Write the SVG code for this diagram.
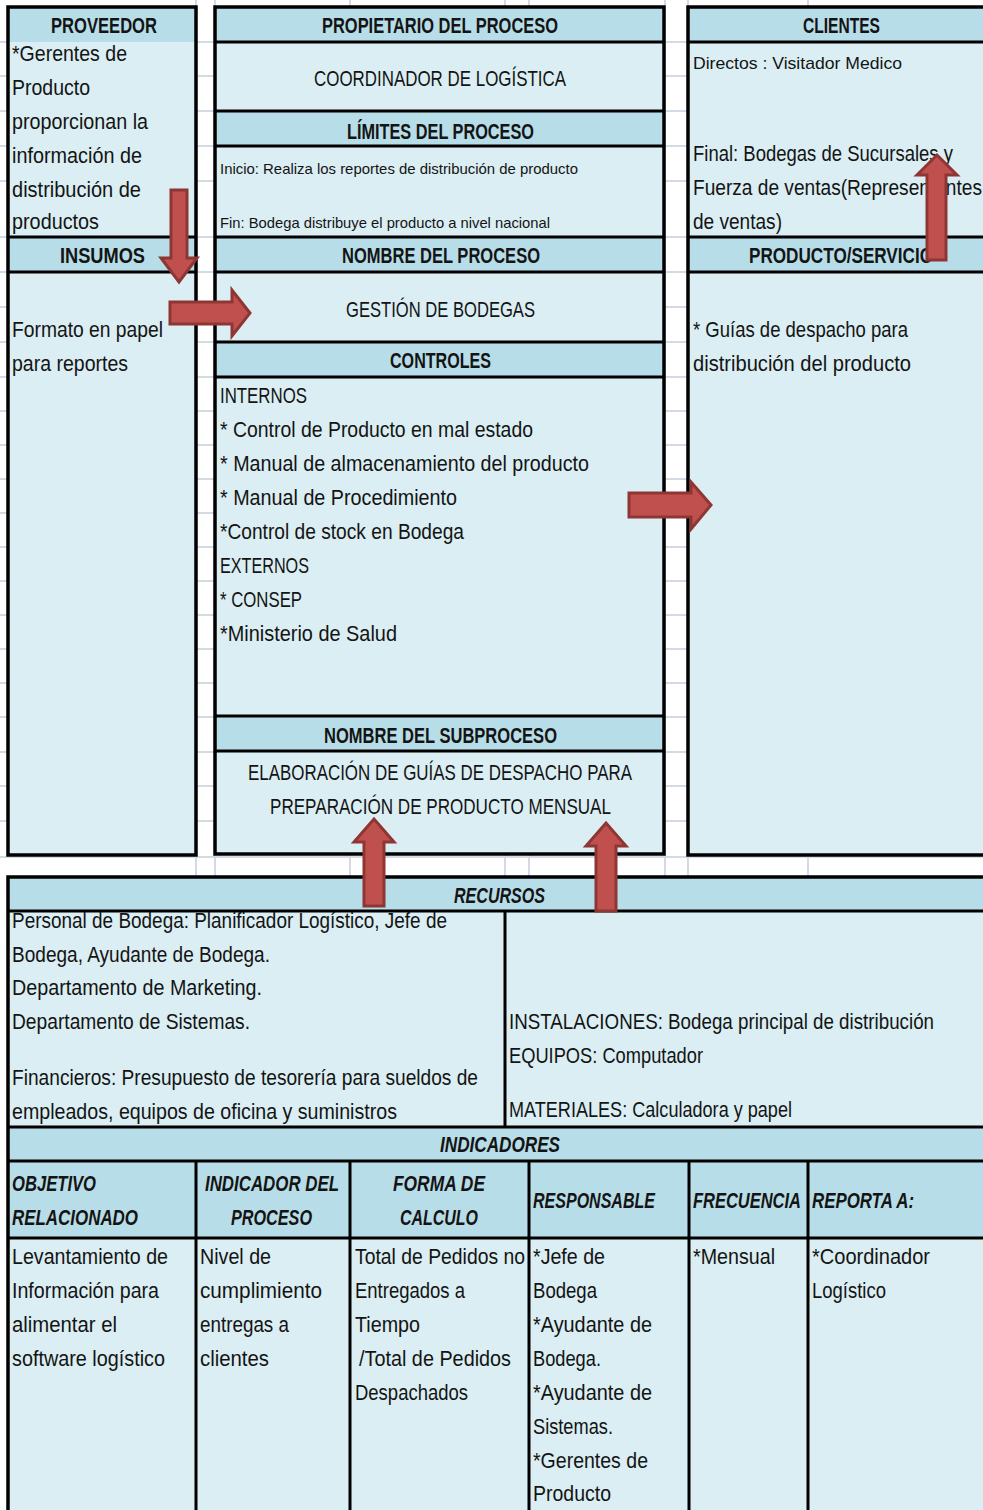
<svg xmlns="http://www.w3.org/2000/svg" width="983" height="1510" viewBox="0 0 983 1510">
  <style>
    .grid { stroke: #d3dae6; stroke-width: 2; }
    .hd { fill: #b7dde8; }
    .bd { fill: #daeef3; }
    .ln { stroke: #000; stroke-width: 3; fill: none; }
    .frame { stroke: #000; stroke-width: 3.5; fill: none; }
    text { font-family: "Liberation Sans Narrow", "Liberation Sans", Arial, sans-serif; font-size: 22px; fill: #141414; }
    .b { font-weight: bold; }
    .bi { font-weight: bold; font-style: italic; }
    .sm { font-size: 15px; }
    .md { font-size: 17px; }
    .arrow { fill: #c0504d; stroke: #8e3634; stroke-width: 3; stroke-linejoin: miter; }
  </style>

  <!-- sheet background and cell grid -->
  <rect x="0" y="0" width="983" height="1510" fill="#fff"/>
  <g id="sheet-grid" class="grid">
    <path d="M0,42H983M0,76H983M0,111H983M0,146H983M0,181H983M0,237H983M0,272H983M0,307H983M0,342H983M0,377H983M0,411H983M0,445H983M0,479H983M0,513H983M0,547H983M0,581H983M0,615H983M0,649H983M0,683H983M0,717H983M0,752H983M0,786H983M0,821H983M0,857H983"/>
    <path d="M196,0V877M215,0V877M350,0V877M505,0V877M529,0V877M665,0V877M688,0V877M808,0V877"/>
  </g>

  <!-- left column: supplier and inputs -->
  <g id="proveedor">
    <rect class="bd" x="8" y="7" width="188" height="230"/>
    <rect class="hd" x="8" y="7" width="188" height="35"/>
    <text class="b" x="51" y="33" textLength="106" lengthAdjust="spacingAndGlyphs">PROVEEDOR</text>
    <text x="12" y="61" textLength="115" lengthAdjust="spacingAndGlyphs">*Gerentes de</text>
    <text x="12" y="95" textLength="78" lengthAdjust="spacingAndGlyphs">Producto</text>
    <text x="12" y="129" textLength="136" lengthAdjust="spacingAndGlyphs">proporcionan la</text>
    <text x="12" y="163" textLength="130" lengthAdjust="spacingAndGlyphs">información de</text>
    <text x="12" y="197" textLength="129" lengthAdjust="spacingAndGlyphs">distribución de</text>
    <text x="12" y="229" textLength="87" lengthAdjust="spacingAndGlyphs">productos</text>
  </g>
  <g id="insumos">
    <rect class="bd" x="8" y="237" width="188" height="618"/>
    <rect class="hd" x="8" y="237" width="188" height="35"/>
    <path class="ln" d="M8,237H196M8,272H196"/>
    <text class="b" x="60" y="263" textLength="85" lengthAdjust="spacingAndGlyphs">INSUMOS</text>
    <text x="12" y="337" textLength="151" lengthAdjust="spacingAndGlyphs">Formato en papel</text>
    <text x="12" y="371" textLength="116" lengthAdjust="spacingAndGlyphs">para reportes</text>
  </g>
  <rect class="frame" x="8" y="7" width="188" height="848"/>

  <!-- middle column: process description -->
  <g id="propietario">
    <rect class="bd" x="215" y="7" width="449" height="104"/>
    <rect class="hd" x="215" y="7" width="449" height="35"/>
    <path class="ln" d="M215,42H664"/>
    <text class="b" x="322" y="33" textLength="236" lengthAdjust="spacingAndGlyphs">PROPIETARIO DEL PROCESO</text>
    <text x="314" y="86" textLength="252" lengthAdjust="spacingAndGlyphs">COORDINADOR DE LOGÍSTICA</text>
  </g>
  <g id="limites">
    <rect class="bd" x="215" y="111" width="449" height="126"/>
    <rect class="hd" x="215" y="111" width="449" height="35"/>
    <path class="ln" d="M215,111H664M215,146H664"/>
    <text class="b" x="347" y="139" textLength="187" lengthAdjust="spacingAndGlyphs">LÍMITES DEL PROCESO</text>
    <text class="sm" x="220" y="174" textLength="358" lengthAdjust="spacingAndGlyphs">Inicio: Realiza los reportes de distribución de producto</text>
    <text class="sm" x="220" y="228" textLength="330" lengthAdjust="spacingAndGlyphs">Fin: Bodega distribuye el producto a nivel nacional</text>
  </g>
  <g id="nombre-proceso">
    <rect class="bd" x="215" y="237" width="449" height="105"/>
    <rect class="hd" x="215" y="237" width="449" height="35"/>
    <path class="ln" d="M215,237H664M215,272H664"/>
    <text class="b" x="342" y="263" textLength="198" lengthAdjust="spacingAndGlyphs">NOMBRE DEL PROCESO</text>
    <text x="346" y="317" textLength="189" lengthAdjust="spacingAndGlyphs">GESTIÓN DE BODEGAS</text>
  </g>
  <g id="controles">
    <rect class="bd" x="215" y="342" width="449" height="374"/>
    <rect class="hd" x="215" y="342" width="449" height="35"/>
    <path class="ln" d="M215,342H664M215,377H664"/>
    <text class="b" x="390" y="368" textLength="101" lengthAdjust="spacingAndGlyphs">CONTROLES</text>
    <text x="220" y="403" textLength="87" lengthAdjust="spacingAndGlyphs">INTERNOS</text>
    <text x="220" y="437" textLength="313" lengthAdjust="spacingAndGlyphs">* Control de Producto en mal estado</text>
    <text x="220" y="471" textLength="369" lengthAdjust="spacingAndGlyphs">* Manual de almacenamiento del producto</text>
    <text x="220" y="505" textLength="237" lengthAdjust="spacingAndGlyphs">* Manual de Procedimiento</text>
    <text x="220" y="539" textLength="244" lengthAdjust="spacingAndGlyphs">*Control de stock en Bodega</text>
    <text x="220" y="573" textLength="89" lengthAdjust="spacingAndGlyphs">EXTERNOS</text>
    <text x="220" y="607" textLength="82" lengthAdjust="spacingAndGlyphs">* CONSEP</text>
    <text x="220" y="641" textLength="177" lengthAdjust="spacingAndGlyphs">*Ministerio de Salud</text>
  </g>
  <g id="subproceso">
    <rect class="bd" x="215" y="716" width="449" height="138"/>
    <rect class="hd" x="215" y="716" width="449" height="35"/>
    <path class="ln" d="M215,716H664M215,751H664"/>
    <text class="b" x="324" y="743" textLength="233" lengthAdjust="spacingAndGlyphs">NOMBRE DEL SUBPROCESO</text>
    <text x="248" y="780" textLength="384" lengthAdjust="spacingAndGlyphs">ELABORACIÓN DE GUÍAS DE DESPACHO PARA</text>
    <text x="270" y="814" textLength="341" lengthAdjust="spacingAndGlyphs">PREPARACIÓN DE PRODUCTO MENSUAL</text>
  </g>
  <rect class="frame" x="215" y="7" width="449" height="847"/>

  <!-- right column: customers and output -->
  <g id="clientes">
    <rect class="bd" x="688" y="7" width="310" height="230"/>
    <rect class="hd" x="688" y="7" width="310" height="35"/>
    <path class="ln" d="M688,42H998"/>
    <text class="b" x="803" y="33" textLength="77" lengthAdjust="spacingAndGlyphs">CLIENTES</text>
    <text class="md" x="693" y="69" textLength="209" lengthAdjust="spacingAndGlyphs">Directos : Visitador Medico</text>
    <text x="693" y="161" textLength="260" lengthAdjust="spacingAndGlyphs">Final: Bodegas de Sucursales y</text>
    <text x="693" y="195" textLength="289" lengthAdjust="spacingAndGlyphs">Fuerza de ventas(Representantes</text>
    <text x="693" y="229" textLength="89" lengthAdjust="spacingAndGlyphs">de ventas)</text>
  </g>
  <g id="producto-servicio">
    <rect class="bd" x="688" y="237" width="310" height="618"/>
    <rect class="hd" x="688" y="237" width="310" height="35"/>
    <path class="ln" d="M688,237H998M688,272H998"/>
    <text class="b" x="749" y="263" textLength="184" lengthAdjust="spacingAndGlyphs">PRODUCTO/SERVICIO</text>
    <text x="693" y="337" textLength="215" lengthAdjust="spacingAndGlyphs">* Guías de despacho para</text>
    <text x="693" y="371" textLength="218" lengthAdjust="spacingAndGlyphs">distribución del producto</text>
  </g>
  <rect class="frame" x="688" y="7" width="320" height="848"/>

  <!-- resources -->
  <g id="recursos">
    <rect class="bd" x="8" y="877" width="990" height="250"/>
    <rect class="hd" x="8" y="877" width="990" height="34"/>
    <path class="ln" d="M8,911H998M505,911V1127"/>
    <text class="bi" x="454" y="903" textLength="91" lengthAdjust="spacingAndGlyphs">RECURSOS</text>
    <text x="12" y="928" textLength="435" lengthAdjust="spacingAndGlyphs">Personal de Bodega: Planificador Logístico, Jefe de</text>
    <text x="12" y="962" textLength="258" lengthAdjust="spacingAndGlyphs">Bodega, Ayudante de Bodega.</text>
    <text x="12" y="995" textLength="250" lengthAdjust="spacingAndGlyphs">Departamento de Marketing.</text>
    <text x="12" y="1029" textLength="238" lengthAdjust="spacingAndGlyphs">Departamento de Sistemas.</text>
    <text x="12" y="1085" textLength="466" lengthAdjust="spacingAndGlyphs">Financieros: Presupuesto de tesorería para sueldos de</text>
    <text x="12" y="1119" textLength="385" lengthAdjust="spacingAndGlyphs">empleados, equipos de oficina y suministros</text>
    <text x="509" y="1029" textLength="425" lengthAdjust="spacingAndGlyphs">INSTALACIONES: Bodega principal de distribución</text>
    <text x="509" y="1063" textLength="194" lengthAdjust="spacingAndGlyphs">EQUIPOS: Computador</text>
    <text x="509" y="1117" textLength="283" lengthAdjust="spacingAndGlyphs">MATERIALES: Calculadora y papel</text>
  </g>

  <!-- indicators table -->
  <g id="indicadores">
    <rect class="bd" x="8" y="1127" width="990" height="390"/>
    <rect class="hd" x="8" y="1127" width="990" height="111"/>
    <path class="ln" d="M8,1127H998M8,1161H998M8,1238H998M196,1161V1515M350,1161V1515M529,1161V1515M689,1161V1515M808,1161V1515"/>
    <text class="bi" x="440" y="1152" textLength="120" lengthAdjust="spacingAndGlyphs">INDICADORES</text>
    <text class="bi" x="12" y="1191" textLength="84" lengthAdjust="spacingAndGlyphs">OBJETIVO</text>
    <text class="bi" x="12" y="1225" textLength="126" lengthAdjust="spacingAndGlyphs">RELACIONADO</text>
    <text class="bi" x="205" y="1191" textLength="134" lengthAdjust="spacingAndGlyphs">INDICADOR DEL</text>
    <text class="bi" x="231" y="1225" textLength="81" lengthAdjust="spacingAndGlyphs">PROCESO</text>
    <text class="bi" x="393" y="1191" textLength="92" lengthAdjust="spacingAndGlyphs">FORMA DE</text>
    <text class="bi" x="400" y="1225" textLength="78" lengthAdjust="spacingAndGlyphs">CALCULO</text>
    <text class="bi" x="533" y="1208" textLength="122" lengthAdjust="spacingAndGlyphs">RESPONSABLE</text>
    <text class="bi" x="693" y="1208" textLength="108" lengthAdjust="spacingAndGlyphs">FRECUENCIA</text>
    <text class="bi" x="812" y="1208" textLength="102" lengthAdjust="spacingAndGlyphs">REPORTA A:</text>

    <text x="12" y="1264" textLength="156" lengthAdjust="spacingAndGlyphs">Levantamiento de</text>
    <text x="12" y="1298" textLength="147" lengthAdjust="spacingAndGlyphs">Información para</text>
    <text x="12" y="1332" textLength="105" lengthAdjust="spacingAndGlyphs">alimentar el</text>
    <text x="12" y="1366" textLength="153" lengthAdjust="spacingAndGlyphs">software logístico</text>

    <text x="200" y="1264" textLength="71" lengthAdjust="spacingAndGlyphs">Nivel de</text>
    <text x="200" y="1298" textLength="122" lengthAdjust="spacingAndGlyphs">cumplimiento</text>
    <text x="200" y="1332" textLength="89" lengthAdjust="spacingAndGlyphs">entregas a</text>
    <text x="200" y="1366" textLength="69" lengthAdjust="spacingAndGlyphs">clientes</text>

    <text x="355" y="1264" textLength="170" lengthAdjust="spacingAndGlyphs">Total de Pedidos no</text>
    <text x="355" y="1298" textLength="110" lengthAdjust="spacingAndGlyphs">Entregados a</text>
    <text x="355" y="1332" textLength="65" lengthAdjust="spacingAndGlyphs">Tiempo</text>
    <text x="359" y="1366" textLength="152" lengthAdjust="spacingAndGlyphs">/Total de Pedidos</text>
    <text x="355" y="1400" textLength="113" lengthAdjust="spacingAndGlyphs">Despachados</text>

    <text x="533" y="1264" textLength="72" lengthAdjust="spacingAndGlyphs">*Jefe de</text>
    <text x="533" y="1298" textLength="64" lengthAdjust="spacingAndGlyphs">Bodega</text>
    <text x="533" y="1332" textLength="119" lengthAdjust="spacingAndGlyphs">*Ayudante de</text>
    <text x="533" y="1366" textLength="68" lengthAdjust="spacingAndGlyphs">Bodega.</text>
    <text x="533" y="1400" textLength="119" lengthAdjust="spacingAndGlyphs">*Ayudante de</text>
    <text x="533" y="1434" textLength="80" lengthAdjust="spacingAndGlyphs">Sistemas.</text>
    <text x="533" y="1468" textLength="115" lengthAdjust="spacingAndGlyphs">*Gerentes de</text>
    <text x="533" y="1501" textLength="78" lengthAdjust="spacingAndGlyphs">Producto</text>

    <text x="693" y="1264" textLength="82" lengthAdjust="spacingAndGlyphs">*Mensual</text>

    <text x="812" y="1264" textLength="118" lengthAdjust="spacingAndGlyphs">*Coordinador</text>
    <text x="812" y="1298" textLength="74" lengthAdjust="spacingAndGlyphs">Logístico</text>
  </g>
  <rect class="frame" x="8" y="877" width="1000" height="640"/>

  <!-- block arrows -->
  <g id="connectors">
    <path class="arrow" d="M171,190H187V258H197L179,282L161,258H171Z"/>
    <path class="arrow" d="M170,302H232V290L250,313L232,336V324H170Z"/>
    <path class="arrow" d="M629,493H691V482L711,505L691,529V517H629Z"/>
    <path class="arrow" d="M927,260V175H917L937,155L957,175H946V260Z"/>
    <path class="arrow" d="M364,906V842H354L374,819L394,842H384V906Z"/>
    <path class="arrow" d="M596,911V846H586L606,823L626,846H616V911Z"/>
  </g>
</svg>
